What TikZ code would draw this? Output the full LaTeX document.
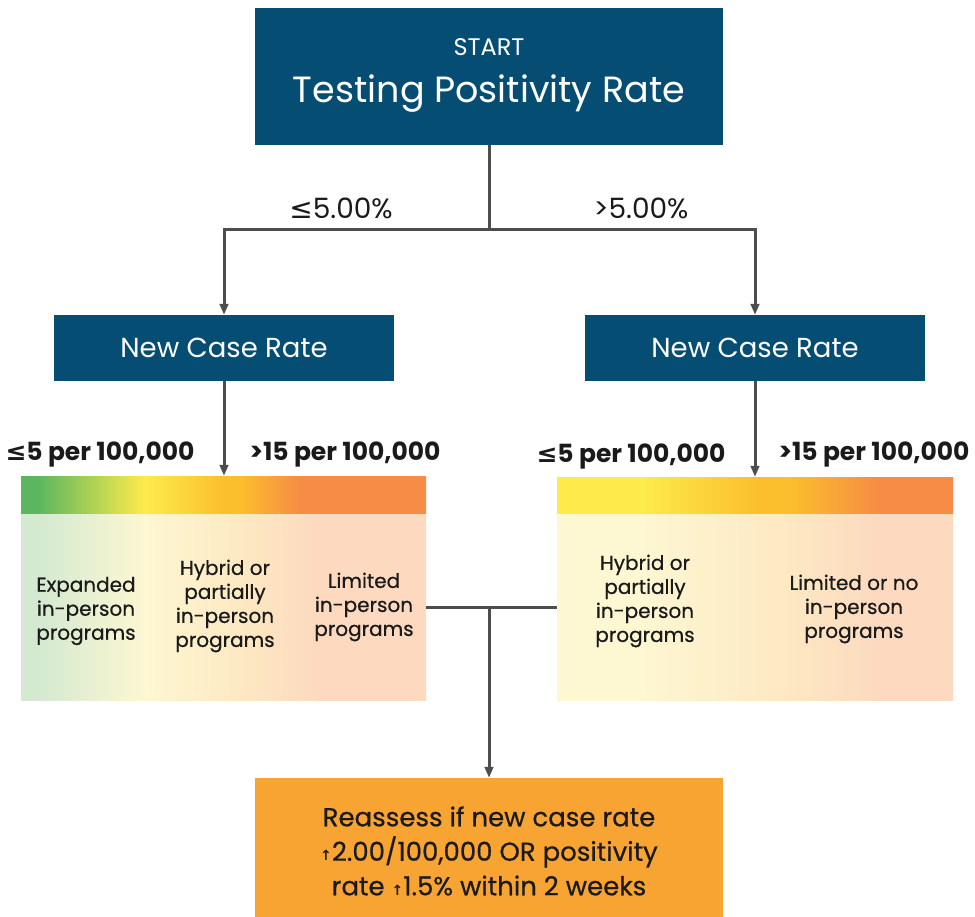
\documentclass[tikz,border=0pt]{standalone}
\usepackage{fontspec}
\setmainfont{Poppins}
\newfontfamily\dvfont{DejaVu Sans}
\newfontfamily\pmed[FakeBold=0.6]{Poppins}
\usetikzlibrary{arrows.meta}
\definecolor{navy}{HTML}{064D74}
\definecolor{linegray}{HTML}{4D4D4D}
\definecolor{boxorange}{HTML}{F8A432}
\definecolor{txt}{HTML}{1A1A1A}
\definecolor{cgreen}{HTML}{5BB65F}
\definecolor{cyellow}{HTML}{FDEB4C}
\definecolor{camber}{HTML}{FBBE2C}
\definecolor{corange}{HTML}{F68C45}
\definecolor{lgreen}{HTML}{D3E9D0}
\definecolor{lyellow}{HTML}{FDF7D2}
\definecolor{lamber}{HTML}{FDE8C2}
\definecolor{lorange}{HTML}{FCD9BF}
\pgfdeclarehorizontalshading{lbar}{100bp}{color(0bp)=(cgreen); color(27bp)=(cgreen); color(40.3bp)=(cyellow); color(50.2bp)=(camber); color(52.05bp)=(camber); color(59.45bp)=(corange); color(100bp)=(corange)}
\pgfdeclarehorizontalshading{lbody}{100bp}{color(0bp)=(lgreen); color(26.8bp)=(lgreen); color(40.3bp)=(lyellow); color(52.65bp)=(lamber); color(61.9bp)=(lorange); color(100bp)=(lorange)}
\pgfdeclarehorizontalshading{rbar}{100bp}{color(0bp)=(cyellow); color(35.5bp)=(cyellow); color(50.6bp)=(camber); color(54.5bp)=(camber); color(65.8bp)=(corange); color(100bp)=(corange)}
\pgfdeclarehorizontalshading{rbody}{100bp}{color(0bp)=(lyellow); color(35.5bp)=(lyellow); color(54.5bp)=(lamber); color(65.8bp)=(lorange); color(100bp)=(lorange)}
\newcommand{\upar}{{\dvfont\bfseries\fontsize{14}{14}\selectfont ↑}}
\newcommand{\leqsym}{{\dvfont ≤}}
\begin{document}
\begin{tikzpicture}[x=1pt,y=-1pt,
  navybox/.style={fill=navy,draw=none,inner sep=0pt},
  panel/.style={draw=none,inner sep=0pt},
  line/.style={draw=linegray,line width=3pt},
  arr/.style={line,-{Triangle[length=11pt,width=8.5pt]}},
  ptext/.style={text=txt,align=center,font=\pmed\fontsize{20}{24}\selectfont},
  rlabel/.style={text=txt,font=\bfseries\fontsize{25}{28}\selectfont},
  pctlabel/.style={text=txt,font=\fontsize{28}{32}\selectfont}]
\useasboundingbox (0,0) rectangle (975,917);
\fill[white] (0,0) rectangle (975,917);

% top box
\node[navybox,minimum width=468pt,minimum height=137pt] (start) at (489,76.5) {};
\node[text=white,font=\fontsize{24}{26}\selectfont] at (489,47) {START};
\node[text=white,font=\fontsize{36.5}{40}\selectfont] at (489,94) {Testing Positivity Rate};

% new case rate boxes
\node[navybox,minimum width=340pt,minimum height=66pt,text=white,font=\fontsize{27.5}{30}\selectfont] (ncl) at (224,348) {New Case Rate};
\node[navybox,minimum width=340pt,minimum height=66pt,text=white,font=\fontsize{27.5}{30}\selectfont] (ncr) at (755,348) {New Case Rate};

% left panel
\shade[shading=lbar] (21,476) rectangle (426,514);
\shade[shading=lbody] (21,514) rectangle (426,700);
\node[panel,minimum width=405pt,minimum height=224pt] (pl) at (223.5,588) {};

% right panel
\shade[shading=rbar] (557,477) rectangle (953,514);
\shade[shading=rbody] (557,514) rectangle (953,700);
\node[panel,minimum width=396pt,minimum height=223pt] (pr) at (755,588.5) {};

% panel texts
\node[ptext] at (86,611) {Expanded\\in-person\\programs};
\node[ptext] at (225,606) {Hybrid or\\partially\\in-person\\programs};
\node[ptext] at (364,607) {Limited\\in-person\\programs};
\node[ptext] at (645,601) {Hybrid or\\partially\\in-person\\programs};
\node[ptext] at (854,609) {Limited or no\\in-person\\programs};

% bottom box
\node[fill=boxorange,minimum width=468pt,minimum height=144pt,inner sep=0pt] (re) at (489,850) {};
\node[text=txt,align=center,font=\pmed\fontsize{26}{34.5}\selectfont] at (489,851)
  {Reassess if new case rate\\\upar2.00/100,000 OR positivity\\rate \upar1.5\% within 2 weeks};

% connectors
\coordinate (split) at (489,230);
\coordinate (sl) at (224,230);
\coordinate (sr) at (755,230);
\draw[line] (start.south) -- (split);
\draw[arr] (split) -- (sl) -- (ncl.north);
\draw[arr] (split) -- (sr) -- (ncr.north);
\draw[arr] (ncl.south) -- (pl.north -| ncl.south);
\draw[arr] (ncr.south) -- (pr.north -| ncr.south);
\coordinate (merge) at (489,607);
\draw[line] (pl.east |- merge) -- (pr.west |- merge);
\draw[arr] (merge) -- (re.north);

% labels
\node[pctlabel] at (341,208) {\leqsym5.00\%};
\node[pctlabel] at (641,208) {>5.00\%};
\node[rlabel] at (100,455) {\leqsym5 per 100,000};
\node[rlabel] at (345,455) {>15 per 100,000};
\node[rlabel] at (631,457) {\leqsym5 per 100,000};
\node[rlabel] at (874,455) {>15 per 100,000};
\end{tikzpicture}
\end{document}
